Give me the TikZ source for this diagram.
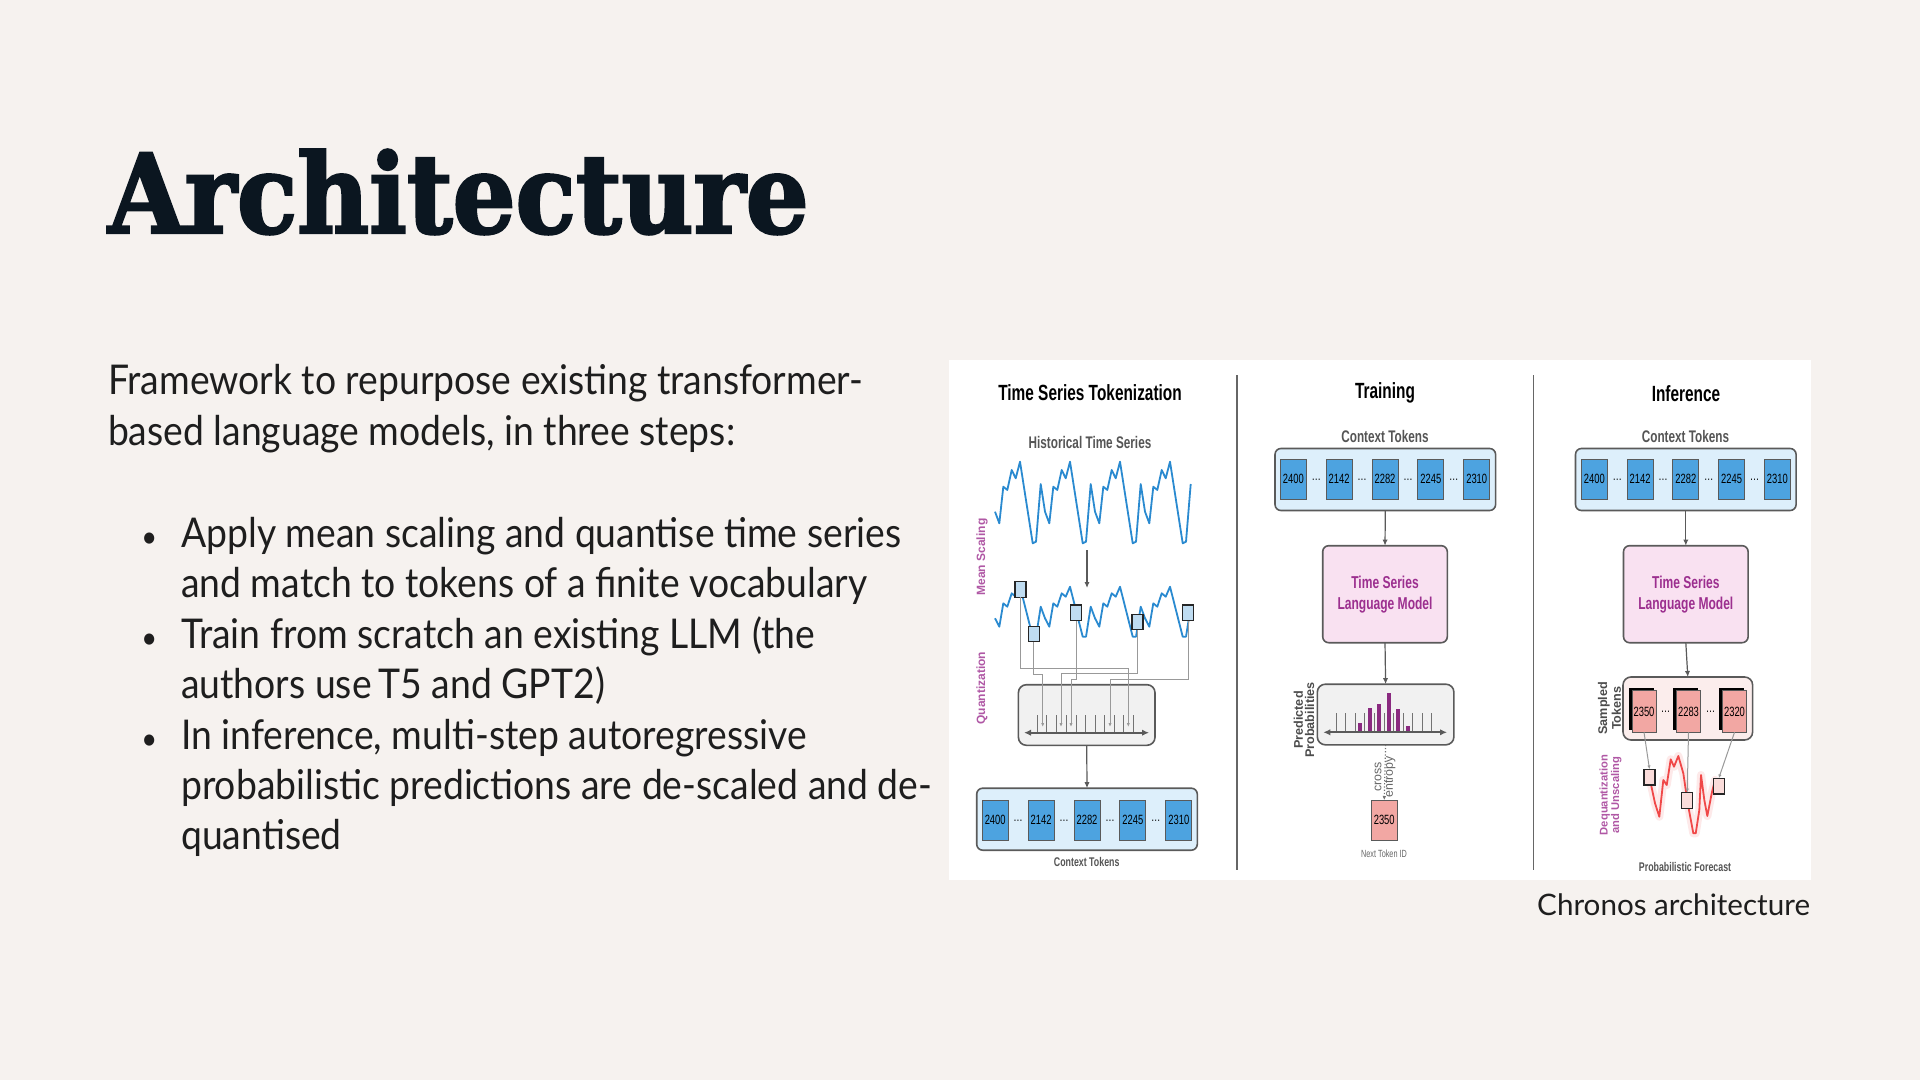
\documentclass[tikz,border=0pt]{standalone}
\usepackage{fontspec}
\setmainfont{Lato}[FakeStretch=0.91]
\newfontfamily\capfont{Lato}
\newfontfamily\titlefont{DejaVu Serif}[FakeStretch=0.9, FakeBold=2.2]
\newfontfamily\figfont[FakeStretch=0.7]{Liberation Sans}
\newfontfamily\figrot{Liberation Sans}
\usetikzlibrary{arrows.meta,shadows}

\definecolor{slidebg}{HTML}{F6F2EF}
\definecolor{titleink}{HTML}{0B1620}
\definecolor{bodyink}{HTML}{1E1E1E}
\definecolor{tokblue}{HTML}{4DA3E0}
\definecolor{boxblue}{HTML}{DDEFFB}
\definecolor{lmpink}{HTML}{F9E1F1}
\definecolor{lmpurple}{HTML}{9C2F8F}
\definecolor{barpurple}{HTML}{8A2A80}
\definecolor{tokred}{HTML}{F2A7A3}
\definecolor{sampbg}{HTML}{FBEDEC}
\definecolor{seriesblue}{HTML}{2A8AD0}
\definecolor{quantgray}{HTML}{F1F1F1}
\definecolor{edgegray}{HTML}{5A5A5A}
\definecolor{labelgray}{HTML}{555555}
\definecolor{forered}{HTML}{F04848}

\begin{document}
\begin{tikzpicture}[x=0.5pt,y=-0.5pt,
    every node/.style={inner sep=0pt, outer sep=0pt},
    body/.style={anchor=base west, font=\fontsize{20.5}{24}\selectfont, text=bodyink},
    bullet/.style={anchor=base, font=\fontsize{15}{18}\selectfont, text=bodyink},
    ftitle/.style={font=\figfont\bfseries\fontsize{11}{12}\selectfont},
    fsub/.style={font=\figfont\bfseries\fontsize{8.4}{9}\selectfont, text=labelgray},
    fside/.style={rotate=90, align=center, font=\figrot\bfseries\fontsize{6}{5.8}\selectfont},
    tok/.style={draw=edgegray, line width=0.5pt, fill=tokblue, minimum width=13pt, minimum height=20pt, font=\figfont\fontsize{6.7}{7}\selectfont},
    redtok/.style={tok, fill=tokred},
    samptok/.style={redtok, minimum width=12pt, minimum height=20.8pt, copy shadow={shadow xshift=-1.3pt, shadow yshift=1.3pt, fill=black, draw=black}},
    dots/.style={font=\figfont\fontsize{6.7}{7}\selectfont},
    ctxbox/.style={draw=edgegray, line width=0.8pt, rounded corners=3pt, fill=boxblue, minimum width=110.3pt, minimum height=31pt},
    lmbox/.style={draw=edgegray, line width=0.8pt, rounded corners=3pt, fill=lmpink, minimum width=62.3pt, minimum height=48.5pt, align=center, text=lmpurple, font=\figfont\bfseries\fontsize{8.6}{10.5}\selectfont},
    distbox/.style={draw=edgegray, line width=0.8pt, rounded corners=4pt, fill=quantgray, minimum width=68.3pt, minimum height=30.3pt},
    hilite/.style={draw=black!85, line width=0.6pt, fill=seriesblue!30, minimum width=5.5pt, minimum height=7.8pt},
    redhilite/.style={hilite, fill=tokred!40},
    arr/.style={draw=edgegray, line width=0.6pt, -{Latex[length=3pt,width=2.6pt]}},
    conn/.style={draw=black!40, line width=0.5pt, -{Latex[length=2pt,width=1.6pt]}},
    axisline/.style={draw=edgegray, line width=1pt, {Latex[length=3.5pt,width=3.2pt]}-{Latex[length=3.5pt,width=3.2pt]}},
    tick/.style={draw=black!55, line width=0.5pt},
    series/.style={draw=seriesblue, line width=0.9pt, line join=round}
  ]
  \useasboundingbox (0,0) rectangle (1920,1080);
  \fill[slidebg] (0,0) rectangle (1920,1080);

  % slide text
  \node[anchor=base west, font=\titlefont\bfseries\fontsize{55}{60}\selectfont, text=titleink] (title) at (108,233) {Architecture};
  \node[body] (intro1) at (108,394.3) {Framework to repurpose existing transformer-};
  \node[body] (intro2) at (108,445.7) {based language models, in three steps:};
  \node[bullet] (bul1) at (149.4,547.4) {•};
  \node[body] (step1a) at (181.2,547.4) {Apply mean scaling and quantise time series};
  \node[body] (step1b) at (181.2,597.8) {and match to tokens of a finite vocabulary};
  \node[bullet] (bul2) at (149.4,648.2) {•};
  \node[body] (step2a) at (181.2,648.2) {Train from scratch an existing LLM (the};
  \node[body] (step2b) at (181.2,698.6) {authors use\,T5 and GPT2)};
  \node[bullet] (bul3) at (149.4,749) {•};
  \node[body] (step3a) at (181.2,749) {In inference, multi-step autoregressive};
  \node[body] (step3b) at (181.2,799.4) {probabilistic predictions are de-scaled and de-};
  \node[body] (step3c) at (181.2,849.8) {quantised};

  % figure panel
  \fill[white] (949,360) rectangle (1811,880);
  \node[anchor=base east, font=\capfont\fontsize{14.8}{16}\selectfont, text=bodyink] (caption) at (1810,915) {Chronos architecture};
  \draw[black!60, line width=0.6pt] (1237,375) -- (1237,870);
  \draw[black!60, line width=0.6pt] (1533.5,375) -- (1533.5,870);

  % Time series tokenization
  \node[ftitle] (tokTitle) at (1090,393) {Time Series Tokenization};
  \node[fsub] (histLbl) at (1090,442) {Historical Time Series};
  \draw[series] (995,511.7)
    \foreach \o in {995,1045,1095,1145} {
      -- (\o,511.7) -- (\o+4.3,523.3) -- (\o+8.3,486.7) -- (\o+12.3,490) -- (\o+16.7,470)
      -- (\o+20.7,478.3) -- (\o+25,461.7) -- (\o+37.7,543.3) -- (\o+41,541.7) -- (\o+45.7,484)
    };
  \coordinate (scaleTop) at (1087,550);
  \coordinate (scaleBot) at (1087,588);
  \draw[arr] (scaleTop) -- (scaleBot);
  \draw[series] (995,618.3)
    \foreach \o in {995,1045,1095,1145} {
      -- (\o,618.3) -- (\o+4.3,626.7) -- (\o+8.3,603.3) -- (\o+12.3,606.7) -- (\o+16.7,593.3)
      -- (\o+20.7,596.7) -- (\o+25,586.7) -- (\o+37.7,636.7) -- (\o+41,636.7) -- (\o+45.7,606.7)
    };
  \node[fside, text=lmpurple!80] (meanLbl) at (982,557) {Mean Scaling};
  \node[fside, text=lmpurple!80] (quantLbl) at (982,688.3) {Quantization};
  \node[hilite] (q1) at (1020.5,589.5) {};
  \node[hilite] (q2) at (1033.8,634) {};
  \node[hilite] (q3) at (1076,612.8) {};
  \node[hilite] (q4) at (1137.5,622) {};
  \node[hilite] (q5) at (1188,612.8) {};
  \node[distbox] (quant) at (1086.7,715) {};
  \foreach \t in {1037.3,1046.7,1056.7,1066,1076,1085,1095,1104.3,1114,1123.3,1133.3}
    \draw[tick] (\t,715) -- (\t,732.7);
  \coordinate (quantL) at (1024,732.7);
  \coordinate (quantR) at (1149,732.7);
  \draw[axisline] (quantL) -- (quantR);
  \coordinate (k1) at (1128.3,727);
  \coordinate (k2) at (1042.7,727);
  \coordinate (k3) at (1071,727);
  \coordinate (k4) at (1061,727);
  \coordinate (k5) at (1110,727);
  \draw[conn] (q1.south) -- ++(0,71) -| (k1);
  \draw[conn] (q2.south) -- ++(0,33) -| (k2);
  \draw[conn] (q3.south) -- ++(0,58.6) -| (k3);
  \draw[conn] (q4.south) -- ++(0,43.3) -| (k4);
  \draw[conn] (q5.south) -- ++(0,59.3) -| (k5);
  \node[ctxbox] (ctx1) at (1087,819.2) {};
  \foreach \v [count=\i] in {2400,2142,2282,2245,2310}
    \node[tok] (ctx1t\i) at ({1087+(\i-3)*45.9},820) {\v};
  \foreach \i in {1,...,4}
    \node[dots] at ({1087+(\i-2.5)*45.9},820.5) {\ldots};
  \draw[arr] (quant.south) -- (ctx1.north);
  \node[fsub, font=\figfont\bfseries\fontsize{6.3}{7}\selectfont] (ctx1Lbl) at (1086.7,861.7) {Context Tokens};

  % Training
  \node[ftitle] (trainTitle) at (1385,393.3) {Training};
  \node[fsub] (ctx2Lbl) at (1385,436.7) {Context Tokens};
  \node[ctxbox] (ctx2) at (1385.3,479.5) {};
  \foreach \v [count=\i] in {2400,2142,2282,2245,2310}
    \node[tok] (ctx2t\i) at ({1385+(\i-3)*45.85},479.3) {\v};
  \foreach \i in {1,...,4}
    \node[dots] at ({1385+(\i-2.5)*45.85},479.8) {\ldots};
  \node[lmbox] (lm2) at (1385,594.2) {Time Series\\Language Model};
  \node[distbox] (prob) at (1385.6,714.5) {};
  \foreach \t in {1336,1345.7,1355,1364.3,1374.3,1384,1393.3,1403.3,1412.7,1422.3,1431.7}
    \draw[tick] (\t,713.3) -- (\t,732.3);
  \foreach \b/\h in {1360/723.3,1370/708.3,1379/704,1389/693.3,1398.3/709.3,1408.3/725.7}
    \fill[barpurple] (\b-2.1,\h) rectangle (\b+2.1,732.3);
  \coordinate (probL) at (1323.3,732.3);
  \coordinate (probR) at (1447,732.3);
  \draw[axisline] (probL) -- (probR);
  \node[fside, text=black!70, font=\figrot\bfseries\fontsize{6.3}{5.6}\selectfont] (probLbl) at (1304,720) {Predicted\\Probabilities};
  \node[redtok] (nextTok) at (1384.2,820) {2350};
  \draw[black!55, line width=0.6pt, densely dotted, -{Latex[length=2pt,width=1.8pt]}] (prob.south) -- (nextTok.north);
  \node[fside, text=black!60, font=\figrot\fontsize{6.2}{5.8}\selectfont] (ceLbl) at (1385,776.7) {cross\\entropy};
  \node[font=\figfont\fontsize{5.2}{6}\selectfont, text=black!60] (nextLbl) at (1384,853.3) {Next Token ID};
  \draw[arr] (ctx2.south) -- (lm2.north);
  \draw[arr] (lm2.south) -- (prob.north);

  % Inference
  \node[ftitle] (infTitle) at (1686,393.3) {Inference};
  \node[fsub] (ctx3Lbl) at (1685.5,436.7) {Context Tokens};
  \node[ctxbox] (ctx3) at (1685.8,479.5) {};
  \foreach \v [count=\i] in {2400,2142,2282,2245,2310}
    \node[tok] (ctx3t\i) at ({1685.8+(\i-3)*45.75},479.3) {\v};
  \foreach \i in {1,...,4}
    \node[dots] at ({1685.8+(\i-2.5)*45.75},479.8) {\ldots};
  \node[lmbox] (lm3) at (1685.8,594.2) {Time Series\\Language Model};
  \node[distbox, fill=sampbg, minimum width=64.8pt, minimum height=31.5pt] (samp) at (1687.8,708.5) {};
  \node[samptok] (s1) at (1644,711.5) {2350};
  \node[samptok] (s2) at (1688.5,711.5) {2283};
  \node[samptok] (s3) at (1734.5,711.5) {2320};
  \node[dots] at (1665.5,712) {\ldots};
  \node[dots] at (1710.5,712) {\ldots};
  \node[fside, text=black!70, font=\figrot\bfseries\fontsize{6.3}{5.6}\selectfont] (sampLbl) at (1609.5,708.3) {Sampled\\Tokens};
  \draw[arr] (ctx3.south) -- (lm3.north);
  \draw[arr] (lm3.south) -- (samp.north);
  % forecast
  \draw[forered!12, line width=4pt, line join=round, line cap=round]
    (1650,780) -- (1655,803.3) -- (1659.3,816.7) -- (1663.3,780) -- (1666.7,785) -- (1670.7,759.3)
    -- (1674,766.7) -- (1678.3,756) -- (1683.3,773.3) -- (1687.7,803.3) -- (1693.3,833.3) -- (1695.7,833.3)
    -- (1699.3,810) -- (1701,775) -- (1704.3,800) -- (1707.3,816) -- (1711.7,793.3) -- (1715,780) -- (1718.3,785);
  \draw[forered, line width=0.9pt, line join=round]
    (1650,780) -- (1655,803.3) -- (1659.3,816.7) -- (1663.3,780) -- (1666.7,785) -- (1670.7,759.3)
    -- (1674,766.7) -- (1678.3,756) -- (1683.3,773.3) -- (1687.7,803.3) -- (1693.3,833.3) -- (1695.7,833.3)
    -- (1699.3,810) -- (1701,775) -- (1704.3,800) -- (1707.3,816) -- (1711.7,793.3) -- (1715,780) -- (1718.3,785);
  \node[redhilite] (f1) at (1649.5,777.2) {};
  \node[redhilite] (f2) at (1687.2,800.5) {};
  \node[redhilite] (f3) at (1718.7,786.2) {};
  \draw[conn] (s1.south) -- (f1.north);
  \draw[conn] (s2.south) -- (f2.north);
  \draw[conn] (s3.south) -- (f3.north);
  \node[fside, text=lmpurple!80, font=\figrot\bfseries\fontsize{5.6}{5.8}\selectfont] (deqLbl) at (1610.5,795) {Dequantization\\and Unscaling};
  \node[fsub, font=\figfont\bfseries\fontsize{6.3}{7}\selectfont] (foreLbl) at (1685,866.7) {Probabilistic Forecast};
\end{tikzpicture}
\end{document}
